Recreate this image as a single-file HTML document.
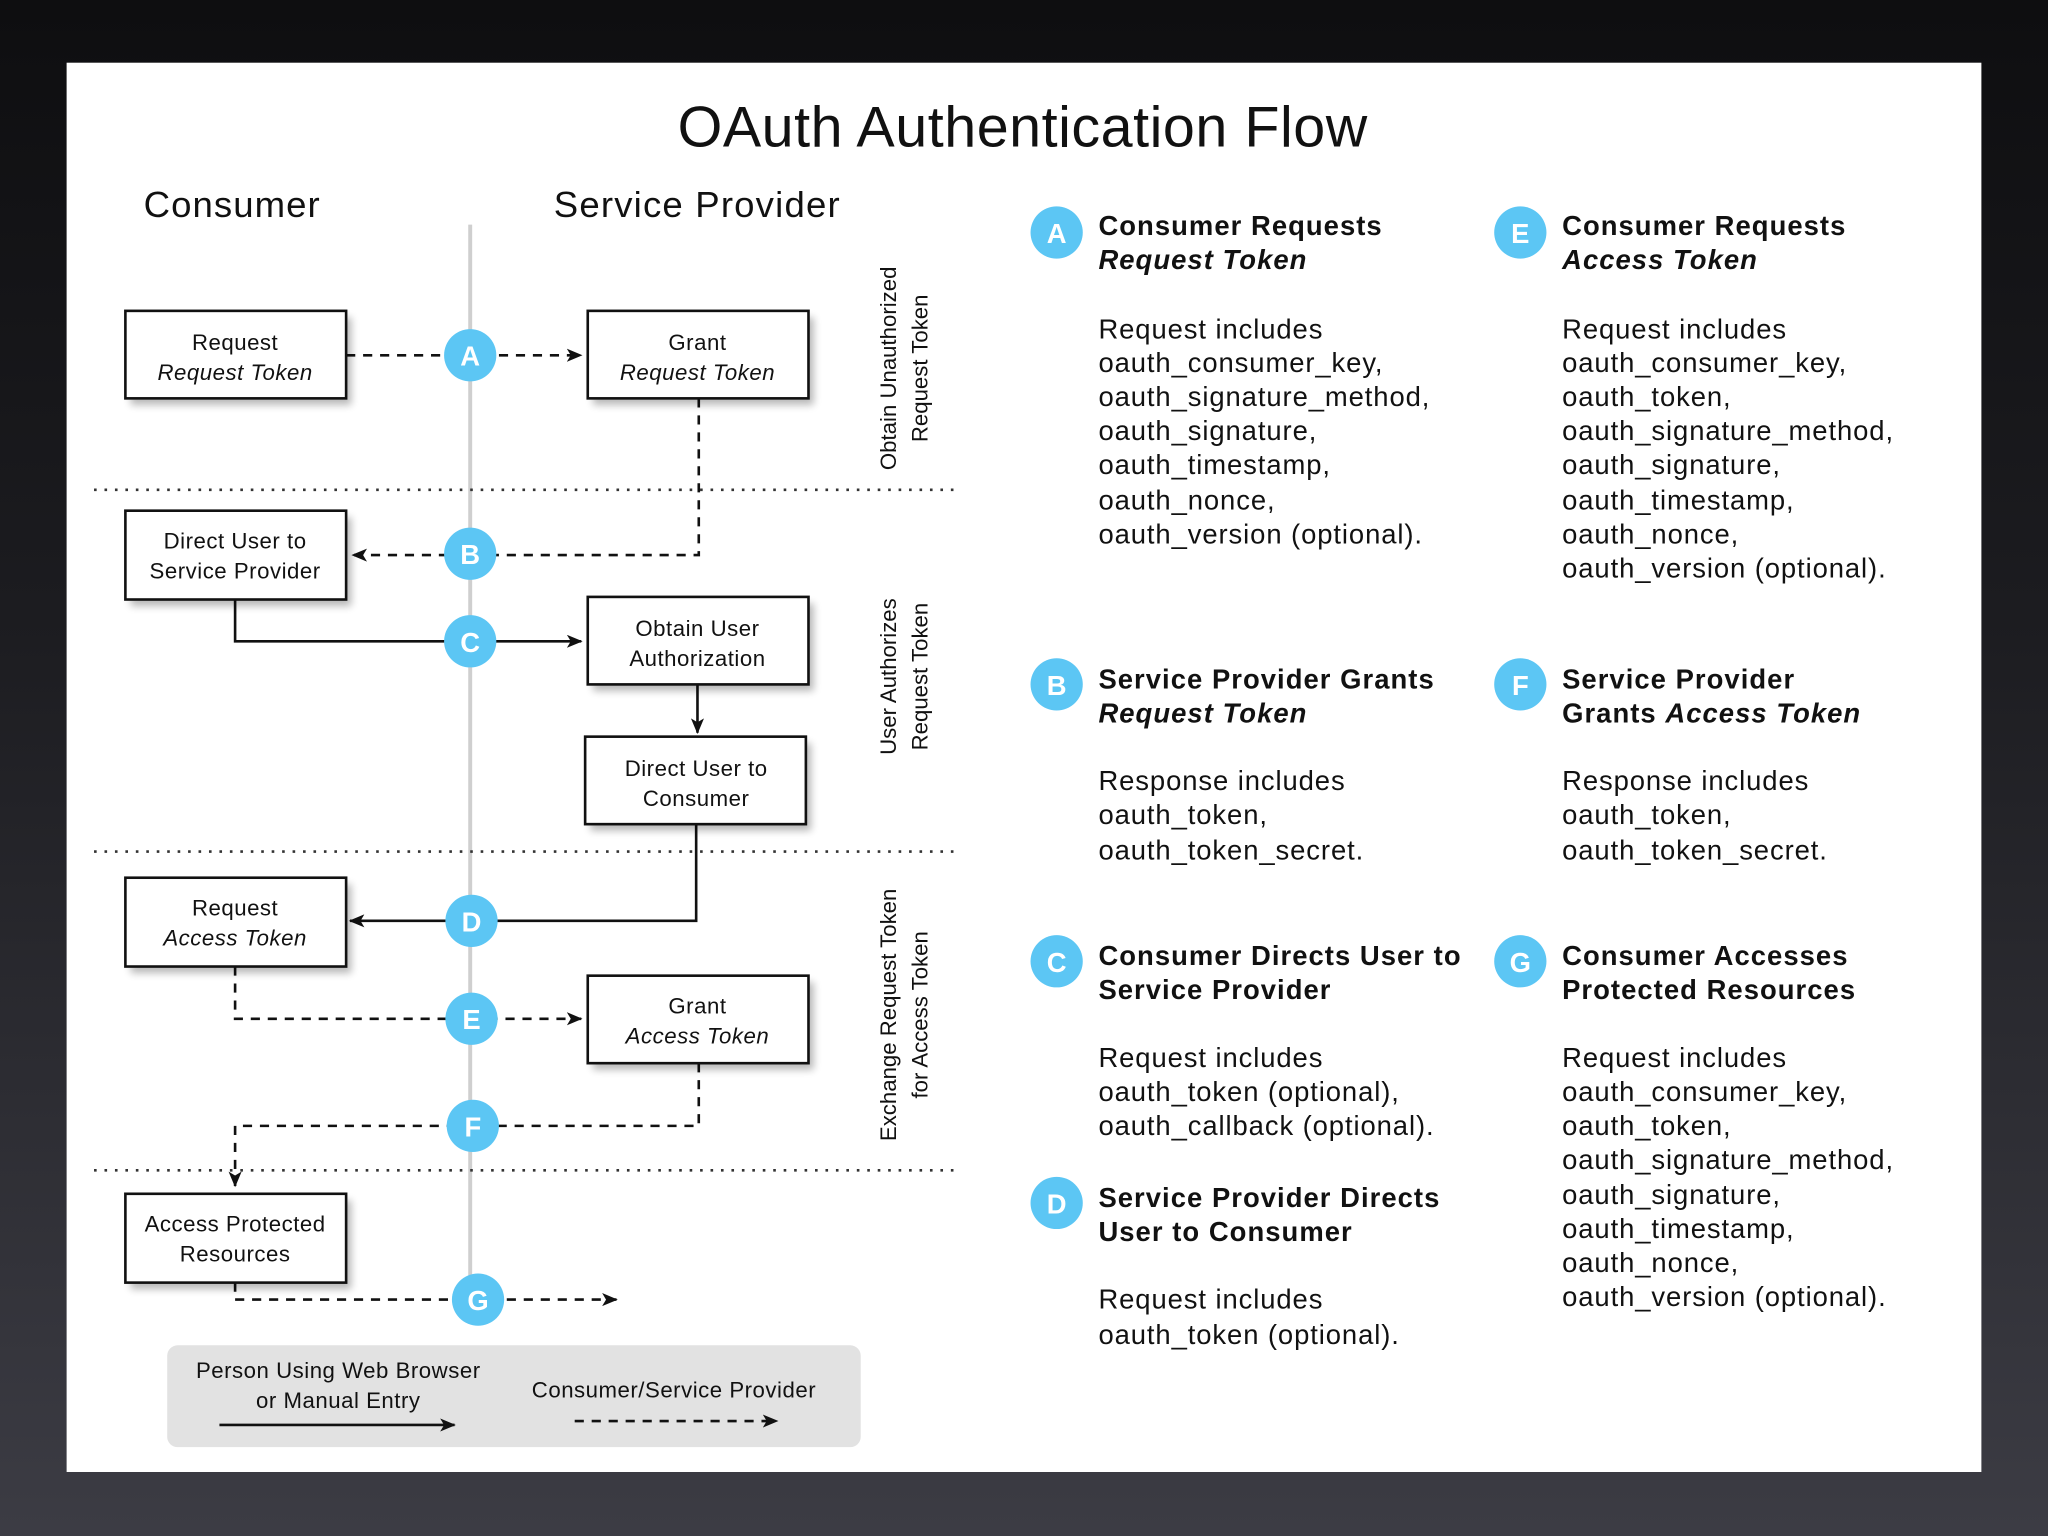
<!DOCTYPE html>
<html><head><meta charset="utf-8"><style>
html,body{margin:0;padding:0;width:2048px;height:1536px;overflow:hidden;background:linear-gradient(#0e0e10,#1c1c20 40%,#3c3c44);}
svg{display:block}
text{font-family:"Liberation Sans",sans-serif;fill:#111}
.bx{fill:#fff;stroke:#111;stroke-width:2}
.sh{fill:#000;opacity:.28;filter:url(#blur)}
.bt{font-size:17px;text-anchor:middle;letter-spacing:0.4px}
.d{stroke:#111;stroke-width:2;fill:none;stroke-dasharray:7 6}
.s{stroke:#111;stroke-width:2;fill:none}
.dot{stroke:#333;stroke-width:2;stroke-dasharray:2 6}
.c{fill:#5cc6f4}
.cl{fill:#fff;font-weight:bold;font-size:21px;text-anchor:middle}
.h{font-size:21px;font-weight:bold;letter-spacing:0.8px}
.t{font-size:21px;letter-spacing:0.7px}
.r{font-size:17px;text-anchor:middle}
</style></head><body>
<svg width="2048" height="1536" viewBox="0 0 1568 1176" xmlns="http://www.w3.org/2000/svg">
<defs>
<filter id="blur"><feGaussianBlur stdDeviation="3"/></filter>
<marker id="ar" markerWidth="12" markerHeight="10" refX="11" refY="5" orient="auto" markerUnits="userSpaceOnUse"><path d="M0,0 L12,5 L0,10 L3,5 z" fill="#111"/></marker>
</defs>
<rect x="51" y="48" width="1466" height="1079" fill="#fff"/>
<text x="783" y="112" font-size="44" text-anchor="middle" letter-spacing="0.4">OAuth Authentication Flow</text>
<text x="110" y="166" font-size="28" letter-spacing="0.8">Consumer</text>
<text x="424" y="166" font-size="28" letter-spacing="0.9">Service Provider</text>
<line x1="360" y1="172" x2="360" y2="1010" stroke="#cfcfcf" stroke-width="3"/>
<line class="dot" x1="72" y1="375" x2="735" y2="375"/>
<line class="dot" x1="72" y1="652" x2="735" y2="652"/>
<line class="dot" x1="72" y1="896" x2="735" y2="896"/>

<path class="d" d="M265,272 H445" marker-end="url(#ar)"/>
<path class="d" d="M535,305 V425 H270" marker-end="url(#ar)"/>
<path class="s" d="M180,459 V491 H445" marker-end="url(#ar)"/>
<path class="s" d="M534,524 V561" marker-end="url(#ar)"/>
<path class="s" d="M533,631 V705 H268" marker-end="url(#ar)"/>
<path class="d" d="M180,740 V780 H445" marker-end="url(#ar)"/>
<path class="d" d="M535,814 V862 H180 V908" marker-end="url(#ar)"/>
<path class="d" d="M180,982 V995 H472" marker-end="url(#ar)"/>

<g>
<rect class="sh" x="100" y="243" width="169" height="67"/><rect class="bx" x="96" y="238" width="169" height="67"/>
<text class="bt" x="180" y="268">Request</text><text class="bt" x="180" y="291" font-style="italic">Request Token</text>
<rect class="sh" x="454" y="243" width="169" height="67"/><rect class="bx" x="450" y="238" width="169" height="67"/>
<text class="bt" x="534" y="268">Grant</text><text class="bt" x="534" y="291" font-style="italic">Request Token</text>
<rect class="sh" x="100" y="396" width="169" height="68"/><rect class="bx" x="96" y="391" width="169" height="68"/>
<text class="bt" x="180" y="420">Direct User to</text><text class="bt" x="180" y="443">Service Provider</text>
<rect class="sh" x="454" y="462" width="169" height="67"/><rect class="bx" x="450" y="457" width="169" height="67"/>
<text class="bt" x="534" y="487">Obtain User</text><text class="bt" x="534" y="510">Authorization</text>
<rect class="sh" x="452" y="569" width="169" height="67"/><rect class="bx" x="448" y="564" width="169" height="67"/>
<text class="bt" x="533" y="594">Direct User to</text><text class="bt" x="533" y="617">Consumer</text>
<rect class="sh" x="100" y="677" width="169" height="68"/><rect class="bx" x="96" y="672" width="169" height="68"/>
<text class="bt" x="180" y="701">Request</text><text class="bt" x="180" y="724" font-style="italic">Access Token</text>
<rect class="sh" x="454" y="752" width="169" height="67"/><rect class="bx" x="450" y="747" width="169" height="67"/>
<text class="bt" x="534" y="776">Grant</text><text class="bt" x="534" y="799" font-style="italic">Access Token</text>
<rect class="sh" x="100" y="919" width="169" height="68"/><rect class="bx" x="96" y="914" width="169" height="68"/>
<text class="bt" x="180" y="943">Access Protected</text><text class="bt" x="180" y="966">Resources</text>
</g>

<g>
<circle class="c" cx="360" cy="272" r="20"/><text class="cl" x="360" y="280">A</text>
<circle class="c" cx="360" cy="424" r="20"/><text class="cl" x="360" y="432">B</text>
<circle class="c" cx="360" cy="491" r="20"/><text class="cl" x="360" y="499">C</text>
<circle class="c" cx="361" cy="705" r="20"/><text class="cl" x="361" y="713">D</text>
<circle class="c" cx="361" cy="780" r="20"/><text class="cl" x="361" y="788">E</text>
<circle class="c" cx="362" cy="862" r="20"/><text class="cl" x="362" y="870">F</text>
<circle class="c" cx="366" cy="995" r="20"/><text class="cl" x="366" y="1003">G</text>
</g>

<g transform="translate(686,282) rotate(-90)"><text class="r" x="0" y="0">Obtain Unauthorized</text><text class="r" x="0" y="24">Request Token</text></g>
<g transform="translate(686,518) rotate(-90)"><text class="r" x="0" y="0">User Authorizes</text><text class="r" x="0" y="24">Request Token</text></g>
<g transform="translate(686,777) rotate(-90)"><text class="r" x="0" y="0">Exchange Request Token</text><text class="r" x="0" y="24">for Access Token</text></g>

<rect x="128" y="1030" width="531" height="78" rx="8" fill="#e2e2e2"/>
<text class="bt" x="259" y="1055">Person Using Web Browser</text>
<text class="bt" x="259" y="1078">or Manual Entry</text>
<path class="s" d="M168,1091 H348" marker-end="url(#ar)"/>
<text class="bt" x="516" y="1070">Consumer/Service Provider</text>
<path class="d" d="M440,1088 H595" marker-end="url(#ar)"/>

<g>
<circle class="c" cx="809" cy="178" r="20"/><text class="cl" x="809" y="186">A</text>
<text class="h" x="841" y="180">Consumer Requests</text>
<text class="h" x="841" y="206" font-style="italic">Request Token</text>
<text class="t" x="841" y="259">Request includes</text>
<text class="t" x="841" y="285">oauth_consumer_key,</text>
<text class="t" x="841" y="311">oauth_signature_method,</text>
<text class="t" x="841" y="337">oauth_signature,</text>
<text class="t" x="841" y="363">oauth_timestamp,</text>
<text class="t" x="841" y="390">oauth_nonce,</text>
<text class="t" x="841" y="416">oauth_version (optional).</text>

<circle class="c" cx="809" cy="524" r="20"/><text class="cl" x="809" y="532">B</text>
<text class="h" x="841" y="527">Service Provider Grants</text>
<text class="h" x="841" y="553" font-style="italic">Request Token</text>
<text class="t" x="841" y="605">Response includes</text>
<text class="t" x="841" y="631">oauth_token,</text>
<text class="t" x="841" y="658">oauth_token_secret.</text>

<circle class="c" cx="809" cy="736" r="20"/><text class="cl" x="809" y="744">C</text>
<text class="h" x="841" y="739">Consumer Directs User to</text>
<text class="h" x="841" y="765">Service Provider</text>
<text class="t" x="841" y="817">Request includes</text>
<text class="t" x="841" y="843">oauth_token (optional),</text>
<text class="t" x="841" y="869">oauth_callback (optional).</text>

<circle class="c" cx="809" cy="921" r="20"/><text class="cl" x="809" y="929">D</text>
<text class="h" x="841" y="924">Service Provider Directs</text>
<text class="h" x="841" y="950">User to Consumer</text>
<text class="t" x="841" y="1002">Request includes</text>
<text class="t" x="841" y="1029">oauth_token (optional).</text>

<circle class="c" cx="1164" cy="178" r="20"/><text class="cl" x="1164" y="186">E</text>
<text class="h" x="1196" y="180">Consumer Requests</text>
<text class="h" x="1196" y="206" font-style="italic">Access Token</text>
<text class="t" x="1196" y="259">Request includes</text>
<text class="t" x="1196" y="285">oauth_consumer_key,</text>
<text class="t" x="1196" y="311">oauth_token,</text>
<text class="t" x="1196" y="337">oauth_signature_method,</text>
<text class="t" x="1196" y="363">oauth_signature,</text>
<text class="t" x="1196" y="390">oauth_timestamp,</text>
<text class="t" x="1196" y="416">oauth_nonce,</text>
<text class="t" x="1196" y="442">oauth_version (optional).</text>

<circle class="c" cx="1164" cy="524" r="20"/><text class="cl" x="1164" y="532">F</text>
<text class="h" x="1196" y="527">Service Provider</text>
<text class="h" x="1196" y="553">Grants <tspan font-style="italic">Access Token</tspan></text>
<text class="t" x="1196" y="605">Response includes</text>
<text class="t" x="1196" y="631">oauth_token,</text>
<text class="t" x="1196" y="658">oauth_token_secret.</text>

<circle class="c" cx="1164" cy="736" r="20"/><text class="cl" x="1164" y="744">G</text>
<text class="h" x="1196" y="739">Consumer Accesses</text>
<text class="h" x="1196" y="765">Protected Resources</text>
<text class="t" x="1196" y="817">Request includes</text>
<text class="t" x="1196" y="843">oauth_consumer_key,</text>
<text class="t" x="1196" y="869">oauth_token,</text>
<text class="t" x="1196" y="895">oauth_signature_method,</text>
<text class="t" x="1196" y="922">oauth_signature,</text>
<text class="t" x="1196" y="948">oauth_timestamp,</text>
<text class="t" x="1196" y="974">oauth_nonce,</text>
<text class="t" x="1196" y="1000">oauth_version (optional).</text>
</g>
</svg>
</body></html>
